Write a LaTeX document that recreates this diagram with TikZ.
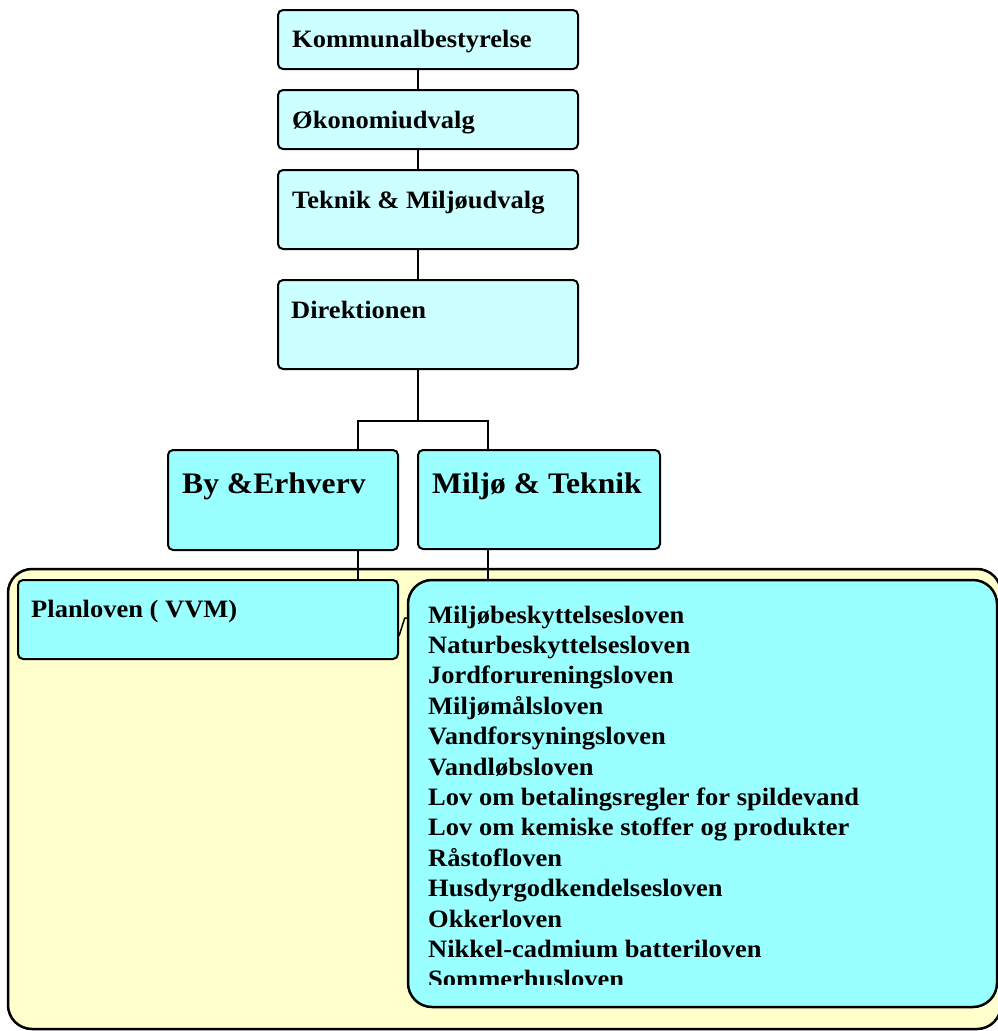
\documentclass[tikz,border=0pt]{standalone}
\usepackage{fontspec}
\setmainfont{Liberation Serif}[FakeStretch=1.06]
\definecolor{lightcy}{HTML}{CCFFFF}
\definecolor{midcy}{HTML}{99FFFF}
\definecolor{pale}{HTML}{FFFFCC}
\begin{document}
\begin{tikzpicture}[x=1pt,y=-1pt,
  box/.style={draw=black, line width=2pt, rounded corners=5pt, inner sep=0pt, rectangle},
  topbox/.style={box, fill=lightcy, minimum width=300pt},
  lowbox/.style={box, fill=midcy},
  bigbox/.style={draw=black, line width=2.5pt, rounded corners=24pt, inner sep=0pt, rectangle},
  conn/.style={draw=black, line width=2pt},
  smalltxt/.style={anchor=base west, inner sep=0pt, font=\bfseries\fontsize{25}{30}\selectfont},
  bigtxt/.style={anchor=base west, inner sep=0pt, font=\bfseries\fontsize{29.8}{34}\selectfont}]
\useasboundingbox (0,0) rectangle (997,1031);
% boxes
\node[topbox, minimum height=59pt] (k) at (428,39.5) {};
\node[topbox, minimum height=59pt] (o) at (428,119.5) {};
\node[topbox, minimum height=79pt] (t) at (428,209.5) {};
\node[topbox, minimum height=89pt] (d) at (428,324.5) {};
\node[lowbox, minimum width=230pt, minimum height=100pt] (by) at (283,500) {};
\node[lowbox, minimum width=242pt, minimum height=99pt] (mt) at (539,499.5) {};
\node[bigbox, fill=pale, minimum width=993pt, minimum height=460pt] (yel) at (504.5,799) {};
\node[lowbox, minimum width=380pt, minimum height=79pt] (plan) at (208,619.5) {};
\node[bigbox, fill=midcy, minimum width=589pt, minimum height=427pt] (big) at (702.5,793.5) {};
% connectors
\draw[conn] ([xshift=-10pt]k.south) -- ([xshift=-10pt]o.north);
\draw[conn] ([xshift=-10pt]o.south) -- ([xshift=-10pt]t.north);
\draw[conn] ([xshift=-10pt]t.south) -- ([xshift=-10pt]d.north);
\draw[conn] ([xshift=-10pt]d.south) -- ++(0,51) -| ([xshift=75pt]by.north);
\draw[conn] ([xshift=-10pt]d.south) -- ++(0,51) -| ([xshift=-51pt]mt.north);
\draw[conn] ([xshift=75pt]by.south) -- ([xshift=75pt]by.south |- plan.north);
\draw[conn] ([xshift=-51pt]mt.south) -- ([xshift=-51pt]mt.south |- big.north);
\draw[line width=1.5pt] ([yshift=-16.5pt]plan.east) -- ([xshift=-2pt,yshift=175.5pt]big.west) -- ([yshift=175.5pt]big.west);
% labels
\node[smalltxt] (tk) at (292,47) {Kommunalbestyrelse};
\node[smalltxt] (to) at (292,128) {Økonomiudvalg};
\node[smalltxt] (tt) at (292,208) {Teknik \& Miljøudvalg};
\node[smalltxt] (td) at (291,318) {Direktionen};
\node[bigtxt] (tby) at (182,493) {By \&Erhverv};
\node[bigtxt] (tmt) at (432,493) {Miljø \& Teknik};
\node[smalltxt] (tpl) at (31,617) {Planloven ( VVM)};
\begin{scope}
\clip (408,575) rectangle (995,984.5);
\foreach \txt [count=\i from 0] in {Miljøbeskyttelsesloven,Naturbeskyttelsesloven,Jordforureningsloven,Miljømålsloven,Vandforsyningsloven,Vandløbsloven,Lov om betalingsregler for spildevand,Lov om kemiske stoffer og produkter,Råstofloven,Husdyrgodkendelsesloven,Okkerloven,Nikkel-cadmium batteriloven,Sommerhusloven}
  \node[smalltxt] (law\i) at (428,623+30.4*\i) {\txt};
\end{scope}
\end{tikzpicture}
\end{document}
